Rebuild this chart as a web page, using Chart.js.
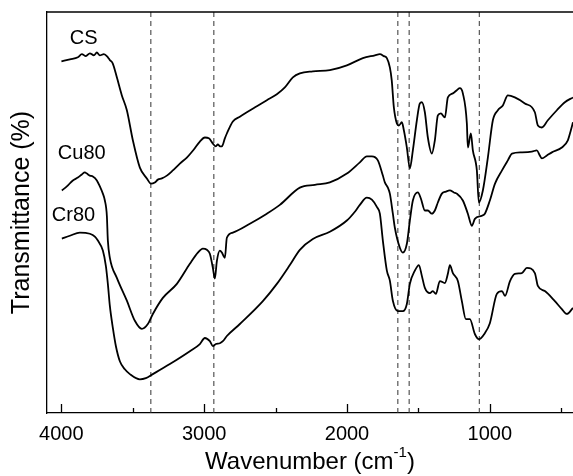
<!DOCTYPE html>
<html>
<head>
<meta charset="utf-8">
<title>FTIR spectra</title>
<script src="https://cdn.jsdelivr.net/npm/chart.js@4.4.1/dist/chart.umd.min.js"></script>
<style>
    body { margin: 0; background: #fff; }
    #wrap { width: 573px; height: 476px; }
</style>
</head>
<body>
<div id="wrap"><canvas id="ftirChart" width="573" height="476"></canvas></div>
<script>
// ===== Data =====
const wnCS = [3999,3940,3884,3856,3828,3800,3772,3751,3730,3702,3674,3660,3640,3611,3576,3541,3499,3450,3401,3373,
    3345,3324,3296,3261,3219,3170,3121,3072,3030,2995,2967,2939,2918,2904,2890,2876,2855,2841,2799,2750,
    2701,2631,2561,2491,2435,2379,2330,2239,2120,2001,1889,1805,1770,1742,1721,1700,1687,1672,1651,1637,
    1616,1602,1581,1560,1539,1511,1490,1476,1455,1434,1406,1385,1364,1343,1315,1294,1259,1231,1210,1189,
    1161,1154,1133,1119,1091,1077,1049,1014,979,944,909,874,825,755,685,664,636,594,531,475,418];
const tCS = [87.7,88.2,88.7,89.5,89.0,89.7,89.2,89.9,89.2,89.5,88.7,88.0,87.2,83.7,79.2,75.5,68.0,61.2,58.5,57.2,
    57.5,58.2,58.5,59.2,60.5,62.2,63.7,65.7,67.7,68.7,68.5,67.2,66.5,67.0,66.5,66.5,68.5,69.7,72.7,73.9,
    75.0,76.5,78.0,79.5,81.2,83.7,84.7,85.2,85.5,86.7,88.5,89.2,89.5,89.0,88.5,86.2,83.0,76.2,72.2,71.7,
    72.5,70.5,66.2,61.0,65.5,73.0,77.2,77.5,75.0,68.7,64.7,68.0,74.2,74.7,73.7,78.7,79.7,80.5,81.0,79.7,
    72.2,66.2,69.7,65.5,60.5,52.5,55.5,63.7,73.0,75.5,76.7,79.2,78.7,77.2,75.0,71.7,71.2,73.0,75.5,77.5,78.7];

const wnCu80 = [3996,3961,3919,3884,3856,3835,3821,3800,3779,3751,3730,3709,3695,3681,3674,3660,3611,3541,3485,3436,
    3394,3359,3289,3191,3100,3044,3009,2981,2960,2939,2925,2911,2890,2876,2862,2855,2841,2799,2680,2561,
    2470,2330,2225,2120,2001,1910,1861,1826,1784,1749,1735,1714,1700,1679,1665,1630,1609,1581,1560,1539,
    1504,1483,1455,1434,1406,1385,1364,1336,1308,1280,1252,1231,1189,1154,1126,1105,1056,1035,1000,964,
    915,874,845,776,706,671,650,636,601,566,496,454,433,418];
const tCu80 = [55.5,56.5,58.0,58.7,59.5,60.0,59.7,59.2,59.0,58.0,56.5,54.7,53.0,49.2,43.0,38.7,33.7,28.0,23.0,21.0,
    22.2,24.7,28.7,32.2,37.2,40.0,41.0,40.7,39.7,36.2,33.5,37.9,40.5,40.0,39.0,38.7,43.7,45.0,47.2,49.7,
    51.9,56.2,56.9,57.5,59.7,62.5,64.0,64.0,63.0,59.2,57.5,56.2,54.7,49.7,46.2,41.2,40.0,42.2,48.0,53.0,
    55.0,53.5,50.5,50.5,49.7,50.5,52.5,54.7,55.2,55.5,55.0,54.7,53.0,49.7,46.7,48.4,49.2,49.7,53.0,57.2,
    60.5,63.0,64.7,65.0,65.2,65.5,64.2,63.5,64.2,65.0,66.2,68.0,70.5,72.5];

const wnCr80 = [3996,3940,3870,3800,3765,3744,3709,3688,3674,3660,3639,3618,3590,3555,3520,3450,3408,3359,3240,3100,
    3030,2995,2960,2939,2918,2890,2869,2841,2750,2589,2491,2400,2330,2239,2120,2001,1945,1910,1861,1826,
    1791,1770,1749,1721,1700,1679,1644,1609,1581,1560,1525,1497,1476,1455,1420,1399,1378,1350,1315,1294,
    1280,1259,1224,1196,1168,1140,1105,1077,1035,1000,951,915,894,859,825,776,741,685,664,615,
    545,496,461,418];
const tCr80 = [43.5,44.2,45.0,44.7,44.0,43.0,40.5,36.7,32.2,26.7,21.2,16.7,12.9,10.9,9.7,8.4,8.7,9.7,12.2,15.4,
    17.2,18.7,17.9,16.7,17.2,17.4,17.9,19.2,22.2,27.9,32.2,36.9,40.7,43.4,45.2,48.0,50.2,51.9,53.7,53.2,
    51.4,49.7,43.0,35.5,33.0,28.0,25.4,25.4,27.2,32.2,35.5,36.9,34.2,31.2,29.9,30.4,29.7,32.9,32.4,34.7,
    36.9,34.9,32.9,27.9,23.4,23.4,19.7,18.4,19.9,22.4,29.7,30.4,29.2,32.9,34.7,34.9,36.2,34.9,31.7,30.4,
    27.9,25.9,24.7,26.2];

// band positions marked with dashed lines
const bandLines = [3373, 2932, 1644, 1565, 1074];

// x axis ticks (labelled every 1000, minor every 500)
const xTicks = [4000, 3500, 3000, 2500, 2000, 1500, 1000, 500];

// curve labels, anchored in data units
const labelText = ['CS', 'Cu80', 'Cr80'];
const labelX = [3940, 4024, 4066];
const labelY = [93.3, 64.8, 49.2];

const FONT = "'Liberation Sans', Arial, sans-serif";

document.addEventListener('DOMContentLoaded', function() {
    const toPoints = (xs, ys) => xs.map((x, i) => ({ x: x, y: ys[i] }));

    // ===== Datasets =====
    const curve = (label, xs, ys) => ({
        label: label,
        data: toPoints(xs, ys),
        borderColor: '#000',
        borderWidth: 1.8,
        pointRadius: 0,
        cubicInterpolationMode: 'monotone',
        order: 1
    });

    const datasets = [
        curve('CS', wnCS, tCS),
        curve('Cu80', wnCu80, tCu80),
        curve('Cr80', wnCr80, tCr80)
    ];

    bandLines.forEach(wn => {
        datasets.push({
            label: 'band ' + wn,
            data: [{ x: wn, y: 0 }, { x: wn, y: 100 }],
            borderColor: '#333',
            borderWidth: 1,
            borderDash: [5, 4],
            pointRadius: 0,
            order: 2
        });
    });

    // ===== Decorations: inward ticks, top frame, curve labels, x title =====
    const decor = {
        id: 'decor',
        afterDraw(chart) {
            const ctx = chart.ctx;
            const area = chart.chartArea;
            const xs = chart.scales.x;
            const ys = chart.scales.y;
            ctx.save();
            ctx.strokeStyle = '#000';
            ctx.lineWidth = 1.3;

            // top frame
            ctx.beginPath();
            ctx.moveTo(area.left, area.top);
            ctx.lineTo(area.right, area.top);
            ctx.stroke();

            // ticks pointing into the plot
            xs.ticks.forEach(t => {
                const px = Math.round(xs.getPixelForValue(t.value)) + 0.5;
                const len = t.value % 1000 === 0 ? 9 : 5;
                ctx.beginPath();
                ctx.moveTo(px, area.bottom);
                ctx.lineTo(px, area.bottom - len);
                ctx.stroke();
            });

            // curve labels
            ctx.fillStyle = '#000';
            ctx.font = '20px ' + FONT;
            ctx.textAlign = 'left';
            ctx.textBaseline = 'middle';
            labelText.forEach((txt, i) => {
                ctx.fillText(txt, xs.getPixelForValue(labelX[i]), ys.getPixelForValue(labelY[i]));
            });

            // x title with superscript
            const main = 'Wavenumber (cm';
            const sup = '-1';
            const close = ')';
            ctx.font = '24px ' + FONT;
            const w1 = ctx.measureText(main).width;
            const w3 = ctx.measureText(close).width;
            ctx.font = '15px ' + FONT;
            const w2 = ctx.measureText(sup).width;
            const cx = (area.left + area.right) / 2;
            let x = cx - (w1 + w2 + w3) / 2;
            const y = 462;
            ctx.font = '24px ' + FONT;
            ctx.fillText(main, x, y);
            x += w1;
            ctx.font = '15px ' + FONT;
            ctx.fillText(sup, x, y - 9);
            x += w2;
            ctx.font = '24px ' + FONT;
            ctx.fillText(close, x, y);
            ctx.restore();
        }
    };

    // ===== Chart =====
    new Chart(document.getElementById('ftirChart'), {
        type: 'line',
        data: { datasets: datasets },
        options: {
            responsive: false,
            animation: false,
            layout: { padding: { left: 7, right: 0, top: 12, bottom: 21 } },
            plugins: {
                legend: { display: false },
                tooltip: { enabled: false }
            },
            scales: {
                x: {
                    type: 'linear',
                    reverse: true,
                    min: 418,
                    max: 4100,
                    afterBuildTicks: scale => {
                        scale.ticks = xTicks.map(v => ({ value: v }));
                    },
                    grid: { display: false, drawTicks: false },
                    border: { display: true, color: '#000', width: 1.3 },
                    ticks: {
                        autoSkip: false,
                        maxRotation: 0,
                        padding: 9,
                        color: '#000',
                        font: { family: FONT, size: 20 },
                        callback: v => (v % 1000 === 0 ? String(v) : '')
                    }
                },
                y: {
                    min: 0,
                    max: 100,
                    grid: { display: false, drawTicks: false },
                    border: { display: true, color: '#000', width: 1.3 },
                    ticks: { display: false },
                    title: {
                        display: true,
                        text: 'Transmittance (%)',
                        color: '#000',
                        font: { family: FONT, size: 25 },
                        padding: { top: 0, bottom: 10 }
                    }
                }
            }
        },
        plugins: [decor]
    });
});
</script>
</body>
</html>
